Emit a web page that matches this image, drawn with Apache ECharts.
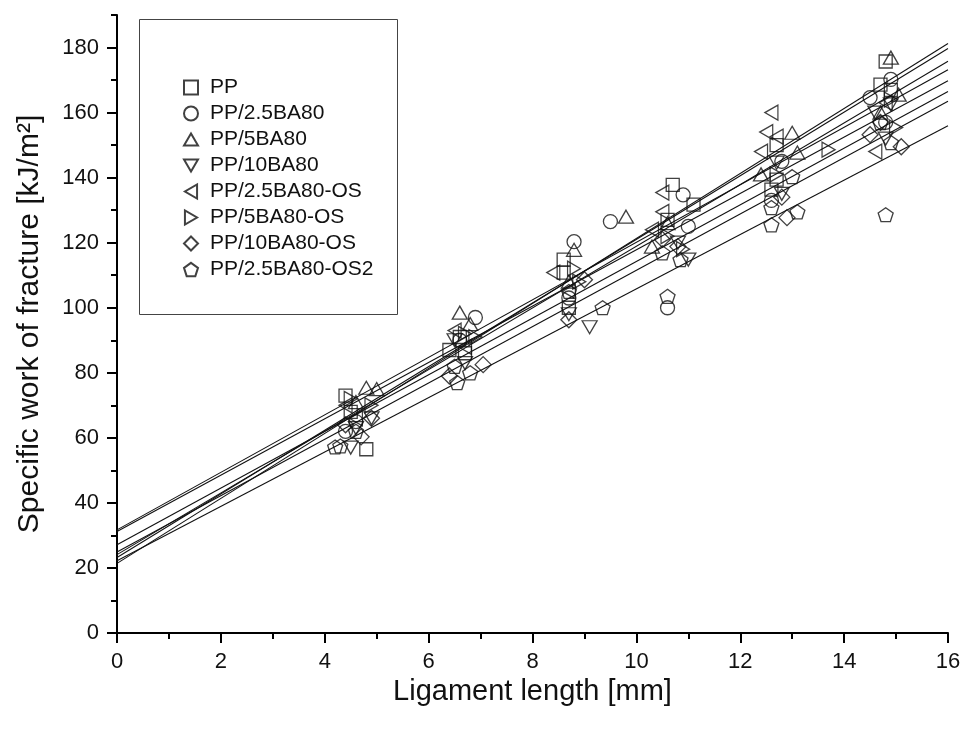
<!DOCTYPE html>
<html>
<head>
<meta charset="utf-8">
<script src="https://cdn.jsdelivr.net/npm/echarts@6/dist/echarts.min.js"></script>
<style>
html,body{margin:0;padding:0;background:#fff;}
#chart{width:964px;height:740px;}
</style>
</head>
<body>
<div id="chart"></div>
<script>
// ---- Data ----
const seriesNames = ['PP','PP/2.5BA80','PP/5BA80','PP/10BA80','PP/2.5BA80-OS','PP/5BA80-OS','PP/10BA80-OS','PP/2.5BA80-OS2'];

const dataPP = [[4.4,73],[4.8,56.5],[4.5,68],[6.4,87],[6.7,86],[6.6,91],[8.6,114.8],[8.6,110.8],[8.7,100],[10.7,137.8],[11.1,131.7],[10.6,127],[12.7,139.4],[12.6,136.3],[12.7,150],[14.8,175.7],[14.7,168.6],[14.9,167]];
const dataPP25 = [[4.6,65],[4.4,62],[6.9,97],[6.6,90],[8.8,120.3],[9.5,126.5],[8.7,103],[10.9,134.7],[11.0,125],[10.6,100],[12.8,145],[12.6,133],[14.9,170.2],[14.5,164.6],[14.8,157]];
const dataPP5 = [[4.8,75.4],[5.0,75],[4.6,71],[6.6,98.5],[6.8,95],[8.8,117.8],[9.8,128],[8.7,108],[10.3,118.8],[10.6,126],[13.0,153.8],[13.1,147.7],[12.4,141],[14.9,176.9],[15.05,165.5],[14.7,160]];
const dataPP10 = [[4.5,57],[4.6,63],[4.9,66],[6.7,83],[6.5,90],[9.1,94],[8.7,98],[11.0,114.8],[10.8,120],[12.7,144.6],[12.8,135],[14.9,162.5],[14.8,152],[14.6,160]];
const dataPP25OS = [[4.4,70],[4.6,66],[6.5,93],[6.7,88],[8.4,110.8],[8.7,105],[10.5,135.4],[10.5,129.5],[10.3,124],[12.6,160],[12.5,154],[12.7,152.6],[12.4,148],[14.6,148],[14.8,163]];
const dataPP5OS = [[4.5,72],[4.9,70],[6.7,92],[6.9,91],[8.8,112],[8.9,108],[10.6,122],[10.9,118],[12.7,141],[13.7,148.6],[15.0,155.4],[14.9,164]];
const dataPP10OS = [[4.7,60.3],[4.9,66],[4.4,64],[7.05,82.5],[6.4,79],[8.7,96.3],[9.0,108.6],[10.8,118.8],[10.5,121],[12.8,134],[12.9,127.7],[14.5,153.2],[15.1,149.5],[14.7,157]];
const dataPP25OS2 = [[4.2,57.2],[4.3,57.5],[4.6,62],[6.5,82],[6.55,77],[6.8,80],[8.7,105],[9.35,100],[10.6,103.5],[10.5,116.9],[10.85,114.8],[12.6,130.8],[13.1,129.5],[12.6,125.5],[13.0,140.3],[14.7,156.9],[14.9,150.8],[14.8,128.6]];

// linear fit lines: intercept and slope per series
const fitIntercepts = [24.1, 23.2, 21.4, 27.1, 31.7, 31.2, 24.9, 22.2];
const fitSlopes     = [9.48, 9.78, 9.99, 8.71, 8.84, 8.66, 8.66, 8.36];
const fitXRange = [0, 16];

const xTicks = [0,2,4,6,8,10,12,14,16];
const yTicks = [0,20,40,60,80,100,120,140,160,180];
const yMinorTicks = [10,30,50,70,90,110,130,150,170,190];

// ---- Chart ----
const allData = [dataPP,dataPP25,dataPP5,dataPP10,dataPP25OS,dataPP5OS,dataPP10OS,dataPP25OS2];
const symbols = [
  'rect',
  'circle',
  'path://M0,-1L1,0.732L-1,0.732Z',
  'path://M-1,-0.732L1,-0.732L0,1Z',
  'path://M0.732,-1L0.732,1L-1,0Z',
  'path://M-0.732,-1L-0.732,1L1,0Z',
  'diamond',
  'path://M0,-1L0.951,-0.309L0.588,0.809L-0.588,0.809L-0.951,-0.309Z'
];
const symSizes = [13, 14, [15,13], [15,13], [13,15], [13,15], [16,16], [15,14]];

const FONT = 'Liberation Sans, Arial, sans-serif';
const series = [];
for (let i = 0; i < 8; i++) {
  const a = fitIntercepts[i], b = fitSlopes[i];
  series.push({
    type: 'line',
    name: 'fit' + i,
    data: [[fitXRange[0], a + b*fitXRange[0]], [fitXRange[1], a + b*fitXRange[1]]],
    showSymbol: false,
    symbol: 'none',
    silent: true,
    lineStyle: {color: '#111', width: 1.1},
    z: 2,
    animation: false
  });
}
for (let i = 0; i < 8; i++) {
  series.push({
    type: 'scatter',
    name: seriesNames[i],
    data: allData[i],
    symbol: symbols[i],
    symbolSize: symSizes[i],
    itemStyle: {color: 'rgba(255,255,255,0)', borderColor: '#111', borderWidth: 1.3},
    z: 3,
    animation: false
  });
}

const chart = echarts.init(document.getElementById('chart'), null, {renderer: 'canvas'});
chart.setOption({
  backgroundColor: '#fff',
  animation: false,
  grid: {left: 117, right: 16, top: 15, bottom: 107, containLabel: false},
  graphic: [{
    type: 'rect',
    shape: {x: 139.5, y: 19.5, width: 258, height: 295},
    style: {fill: '#fff', stroke: '#444', lineWidth: 1},
    z: 5
  }],
  legend: {
    data: seriesNames,
    orient: 'vertical',
    left: 178,
    top: 72,
    itemWidth: 14,
    itemHeight: 14,
    itemGap: 5,
    selectedMode: false,
    z: 10,
    textStyle: {fontFamily: FONT, fontSize: 21, color: '#111', lineHeight: 21, padding: [0,0,0,7]}
  },
  xAxis: {
    type: 'value',
    min: 0, max: 16, interval: 2,
    name: 'Ligament length [mm]',
    nameLocation: 'middle',
    nameGap: 36,
    nameTextStyle: {fontFamily: FONT, fontSize: 29, color: '#111'},
    axisLine: {show: true, onZero: false, lineStyle: {color: '#000', width: 2}},
    axisTick: {show: true, length: 10, lineStyle: {color: '#000', width: 2}, customValues: xTicks},
    minorTick: {show: true, splitNumber: 2, length: 6, lineStyle: {color: '#000', width: 2}},
    axisLabel: {fontFamily: FONT, fontSize: 22, color: '#111', margin: 18, customValues: xTicks},
    splitLine: {show: false}
  },
  yAxis: [{
    type: 'value',
    min: 0, max: 190, interval: 20,
    name: 'Specific work of fracture [kJ/m²]',
    nameLocation: 'middle',
    nameGap: 72,
    nameTextStyle: {fontFamily: FONT, fontSize: 30, color: '#111'},
    axisLine: {show: true, onZero: false, lineStyle: {color: '#000', width: 2}},
    axisTick: {show: true, length: 10, lineStyle: {color: '#000', width: 2}, customValues: yTicks},
    axisLabel: {fontFamily: FONT, fontSize: 22, color: '#111', margin: 18, customValues: yTicks},
    splitLine: {show: false}
  }, {
    type: 'value',
    min: 0, max: 190, interval: 10,
    position: 'left',
    axisLine: {show: false},
    axisTick: {show: true, length: 6, lineStyle: {color: '#000', width: 2}, customValues: yMinorTicks},
    axisLabel: {show: false},
    splitLine: {show: false}
  }],
  series: series
});
</script>
</body>
</html>
